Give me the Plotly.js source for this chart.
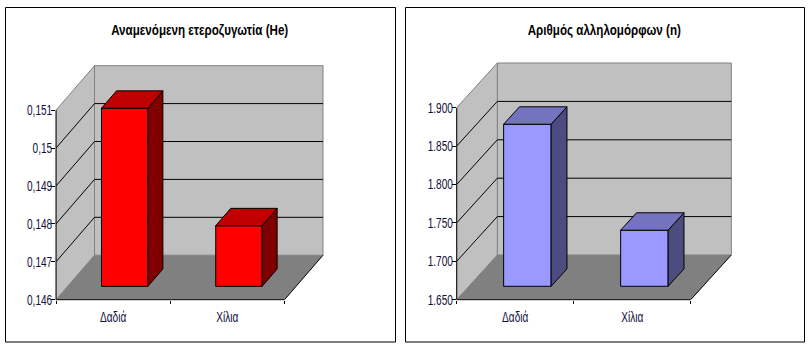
<!DOCTYPE html>
<html><head><meta charset="utf-8">
<script src="https://cdn.plot.ly/plotly-3.0.1.min.js"></script>
<style>html,body{margin:0;padding:0;background:#fff}#c{width:811px;height:355px}</style>
</head><body><div id="c"></div>
<script>
const categories = ['Δαδιά', 'Χίλια'];
const heValues = [0.1507, 0.1476];
const alleleValues = [1.861, 1.723];
const heTicks = [0.146, 0.147, 0.148, 0.149, 0.15, 0.151];
const heTickText = ['0,146', '0,147', '0,148', '0,149', '0,15', '0,151'];
const alleleTicks = [1.65, 1.7, 1.75, 1.8, 1.85, 1.9];
const alleleTickText = ['1.650', '1.700', '1.750', '1.800', '1.850', '1.900'];
const heTitle = 'Αναμενόμενη ετεροζυγωτία (He)';
const alleleTitle = 'Αριθμός αλληλομόρφων (n)';

const W = 811, H = 355, FONT = '"Liberation Sans",Arial,sans-serif';
const panels = [
  {id:'', title:heTitle, titleX:199.7, values:heValues, ticks:heTicks, text:heTickText,
   frame:[5.5,7.5,395.5,342], x0:56, catW:114.25, depthX:38.5, depthY:44.5, base:299.7, unitPx:189.5,
   front:'#ff0000', top:'#c00000', side:'#800000'},
  {id:'2', title:alleleTitle, titleX:604.7, values:alleleValues, ticks:alleleTicks, text:alleleTickText,
   frame:[405.5,7.5,804.5,342], x0:456.7, catW:117, depthX:40.6, depthY:44.7, base:299.7, unitPx:192,
   front:'#9999ff', top:'#7373bf', side:'#4c4c80'}
];
const BAR_W = 0.406, Z0 = 0.30, Z1 = 0.69;
const traces = [], shapes = [], annotations = [], layout = {};

panels.forEach(p => {
  const n = p.ticks.length, vMin = p.ticks[0], vMax = p.ticks[n-1];
  const pxPerV = p.unitPx / (vMax - vMin);
  const dX = p.depthX / p.catW, dV = p.depthY / pxPerV;
  const xa = 'x' + p.id, ya = 'y' + p.id;
  const xMin = -0.5, xMax = categories.length - 0.5;
  const right = p.x0 + p.catW * categories.length + p.depthX + 3;
  const topPx = p.base - p.unitPx - p.depthY - 3;
  layout['xaxis' + p.id] = {
    domain:[p.x0/W, right/W], range:[xMin, xMin + (right-p.x0)/p.catW], anchor:ya,
    tickmode:'array', tickvals:categories.map((_,i)=>i), ticktext:categories,
    ticks:'outside', ticklen:4, tickcolor:'rgba(0,0,0,0)', showgrid:false, zeroline:false, showline:false,
    tickfont:{family:FONT,size:14,color:'#10103a'},
    minor:{tickmode:'array', tickvals:categories.map((_,i)=>i-0.5).concat([xMax]), ticks:'outside', ticklen:3, tickcolor:'#000', tickwidth:1, showgrid:false}
  };
  layout['yaxis' + p.id] = {
    domain:[(H-p.base)/H, (H-topPx)/H], range:[vMin, vMin + (p.base-topPx)/pxPerV], anchor:xa,
    tickmode:'array', tickvals:p.ticks, ticktext:p.text, ticks:'outside', ticklen:4, tickcolor:'#000', tickwidth:1,
    ticklabelstandoff:-4,
    showgrid:false, zeroline:false, showline:false, tickfont:{family:FONT,size:14,color:'#10103a'}
  };
  const poly = (pts, fill, line) => shapes.push({type:'path', xref:xa, yref:ya, layer:'below',
    path:'M' + pts.map(q=>q[0]+','+q[1]).join('L') + 'Z', fillcolor:fill, line:{width:line?1:0,color:line||'rgba(0,0,0,0)'}});
  const seg = (a,b,c) => shapes.push({type:'line', xref:xa, yref:ya, layer:'below', x0:a[0],y0:a[1],x1:b[0],y1:b[1], line:{width:1,color:c}});
  // back wall, side wall, floor
  poly([[xMin+dX,vMin+dV],[xMax+dX,vMin+dV],[xMax+dX,vMax+dV],[xMin+dX,vMax+dV]], '#c0c0c0', '#808080');
  poly([[xMin,vMin],[xMin+dX,vMin+dV],[xMin+dX,vMax+dV],[xMin,vMax]], '#c0c0c0', '#808080');
  poly([[xMin,vMin],[xMax,vMin],[xMax+dX,vMin+dV],[xMin+dX,vMin+dV]], '#808080', null);
  seg([xMax,vMin],[xMax+dX,vMin+dV],'#000');
  p.ticks.slice(1,-1).forEach(v => {
    seg([xMin,v],[xMin+dX,v+dV],'#000');
    seg([xMin+dX,v+dV],[xMax+dX,v+dV],'#000');
  });
  // axis lines
  const px = v => p.x0/W + (v-xMin)*p.catW/W, py = v => (H-p.base+(v-vMin)*pxPerV)/H;
  shapes.push({type:'line',xref:'paper',yref:'paper',x0:px(xMin),x1:px(xMax),y0:py(vMin),y1:py(vMin),line:{width:1,color:'#000'}});
  shapes.push({type:'line',xref:'paper',yref:'paper',x0:px(xMin),x1:px(xMin),y0:py(vMin),y1:py(vMax),line:{width:1,color:'#000'}});
  // bars: front faces
  traces.push({type:'bar', xaxis:xa, yaxis:ya, x:categories.map((_,i)=>i+dX*Z0), y:p.values.map(v=>v-vMin),
    base:p.values.map(()=>vMin+dV*Z0), width:BAR_W, marker:{color:p.front,line:{color:'#000',width:1}}, hoverinfo:'skip', showlegend:false});
  // bars: side and top faces
  p.values.forEach((v,i) => {
    const xl=i-BAR_W/2, xr=i+BAR_W/2;
    const P=(x,val,z)=>[x+dX*z, val+dV*z];
    const face=(pts,color)=>traces.push({type:'scatter',mode:'lines',xaxis:xa,yaxis:ya,fill:'toself',fillcolor:color,
      x:pts.map(q=>q[0]),y:pts.map(q=>q[1]),line:{color:'#000',width:1},hoverinfo:'skip',showlegend:false});
    face([P(xr,vMin,Z0),P(xr,vMin,Z1),P(xr,v,Z1),P(xr,v,Z0),P(xr,vMin,Z0)],p.side);
    face([P(xl,v,Z0),P(xr,v,Z0),P(xr,v,Z1),P(xl,v,Z1),P(xl,v,Z0)],p.top);
  });
  shapes.push({type:'rect',xref:'paper',yref:'paper',x0:p.frame[0]/W,x1:p.frame[2]/W,y0:(H-p.frame[3])/H,y1:(H-p.frame[1])/H,line:{width:1,color:'#000'},fillcolor:'rgba(0,0,0,0)'});
  annotations.push({xref:'paper',yref:'paper',x:p.titleX/W,y:(H-29.5)/H,xanchor:'center',yanchor:'middle',showarrow:false,
    text:p.title,font:{family:FONT,size:14,weight:'bold',color:'#000'}});
});
Object.assign(layout,{width:W,height:H,margin:{l:0,r:0,t:0,b:0},paper_bgcolor:'#fff',plot_bgcolor:'rgba(0,0,0,0)',showlegend:false,barmode:'overlay',shapes,annotations});
Plotly.newPlot('c',traces,layout,{staticPlot:true,displayModeBar:false}).then(gd => {
  // The reference uses a condensed face; squeeze the real text horizontally.
  const squeeze = (sel, k) => gd.querySelectorAll(sel).forEach(t => {
    t.setAttribute('lengthAdjust','spacingAndGlyphs');
    t.setAttribute('textLength', (t.getComputedTextLength()*k).toFixed(1));
  });
  squeeze('.xtick text, .x2tick text', 0.72);
  squeeze('.ytick text, .y2tick text', 0.72);
  squeeze('.annotation-text', 0.83);
});
</script></body></html>
